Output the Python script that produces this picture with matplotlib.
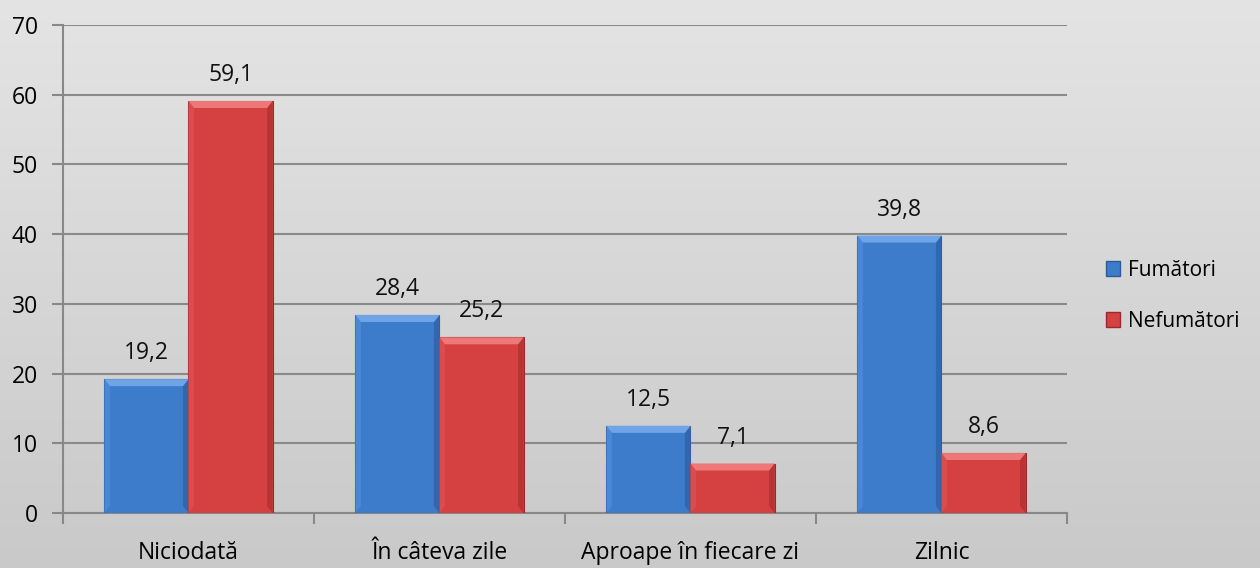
import numpy as np
import matplotlib.pyplot as plt
from matplotlib.colors import LinearSegmentedColormap
from matplotlib.patches import Patch, Polygon

# data
categories = ['Niciodată', 'În câteva zile', 'Aproape în fiecare zi', 'Zilnic']
fumatori = [19.2, 28.4, 12.5, 39.8]
nefumatori = [59.1, 25.2, 7.1, 8.6]
series_names = ['Fumători', 'Nefumători']

plt.rcParams['font.family'] = ['Open Sans', 'DejaVu Sans']
FS = 16.5

fig = plt.figure(figsize=(12.6, 5.68), dpi=100)

# gray gradient background
bg = fig.add_axes([0, 0, 1, 1], zorder=-10)
grad = np.linspace(0, 1, 256).reshape(-1, 1)
cmap_bg = LinearSegmentedColormap.from_list('bg', ['#e4e4e4', '#c9c9c9'])
bg.imshow(grad, aspect='auto', cmap=cmap_bg, extent=[0, 1, 0, 1], origin='upper')
bg.axis('off')

ax = fig.add_axes([0.05, 0.0968, 0.7968, 0.8592])
ax.patch.set_alpha(0)

x = np.arange(len(categories))
w = 0.335
colors = ['#3d7bcb', '#d54040']
edges = ['#2a5c9c', '#992a2a']
tops = ['#6fa5e6', '#ee7878']
lefts = ['#4a88d6', '#dc4c4c']
rights = ['#3367ad', '#b83434']
dx, dy = 0.022, 1.0

for i in range(2):
    vals = [fumatori, nefumatori][i]
    pos = x - w / 2 if i == 0 else x + w / 2
    ax.bar(pos, vals, width=w, color=colors[i], edgecolor=edges[i], linewidth=0.8, zorder=3)
    for p, v in zip(pos, vals):
        x0, x1 = p - w / 2, p + w / 2
        d = min(dy, v / 2)
        # bevel: light top, lighter left, darker right
        ax.add_patch(Polygon([(x0, v), (x0 + dx, v - d), (x0 + dx, d), (x0, 0)],
                             closed=True, facecolor=lefts[i], edgecolor='none', zorder=4))
        ax.add_patch(Polygon([(x1, v), (x1 - dx, v - d), (x1 - dx, d), (x1, 0)],
                             closed=True, facecolor=rights[i], edgecolor='none', zorder=4))
        ax.add_patch(Polygon([(x0, v), (x1, v), (x1 - dx, v - d), (x0 + dx, v - d)],
                             closed=True, facecolor=tops[i], edgecolor='none', zorder=4))
        ax.text(p, v + 2.0, f'{v:.1f}'.replace('.', ','), ha='center', va='bottom',
                fontsize=FS, color='#111111', zorder=5)

ax.set_xlim(-0.5, len(categories) - 0.5)
ax.set_ylim(0, 70)
ax.set_yticks(range(0, 71, 10))
ax.tick_params(axis='y', labelsize=FS, length=8, width=1.5, color='#888888', pad=10)
ax.yaxis.grid(True, color='#8a8a8a', linewidth=1.5, zorder=0)
ax.set_axisbelow(True)

ax.set_xticks(x)
ax.set_xticklabels(categories, fontsize=FS)
ax.tick_params(axis='x', length=0, pad=20)
ax.set_xticks(np.arange(-0.5, len(categories), 1), minor=True)
ax.tick_params(axis='x', which='minor', length=8, width=1.5, color='#888888')

for s in ['top', 'right']:
    ax.spines[s].set_visible(False)
for s in ['left', 'bottom']:
    ax.spines[s].set_color('#888888')
    ax.spines[s].set_linewidth(1.5)

handles = [Patch(facecolor=colors[0], edgecolor=edges[0]),
           Patch(facecolor=colors[1], edgecolor=edges[1])]
fig.legend(handles, series_names, loc='center left', bbox_to_anchor=(0.866, 0.479),
           frameon=False, fontsize=15, handlelength=0.7, handleheight=0.7,
           handletextpad=0.35, labelspacing=1.45, borderpad=0.2)

fig.savefig('out.png', dpi=100)
